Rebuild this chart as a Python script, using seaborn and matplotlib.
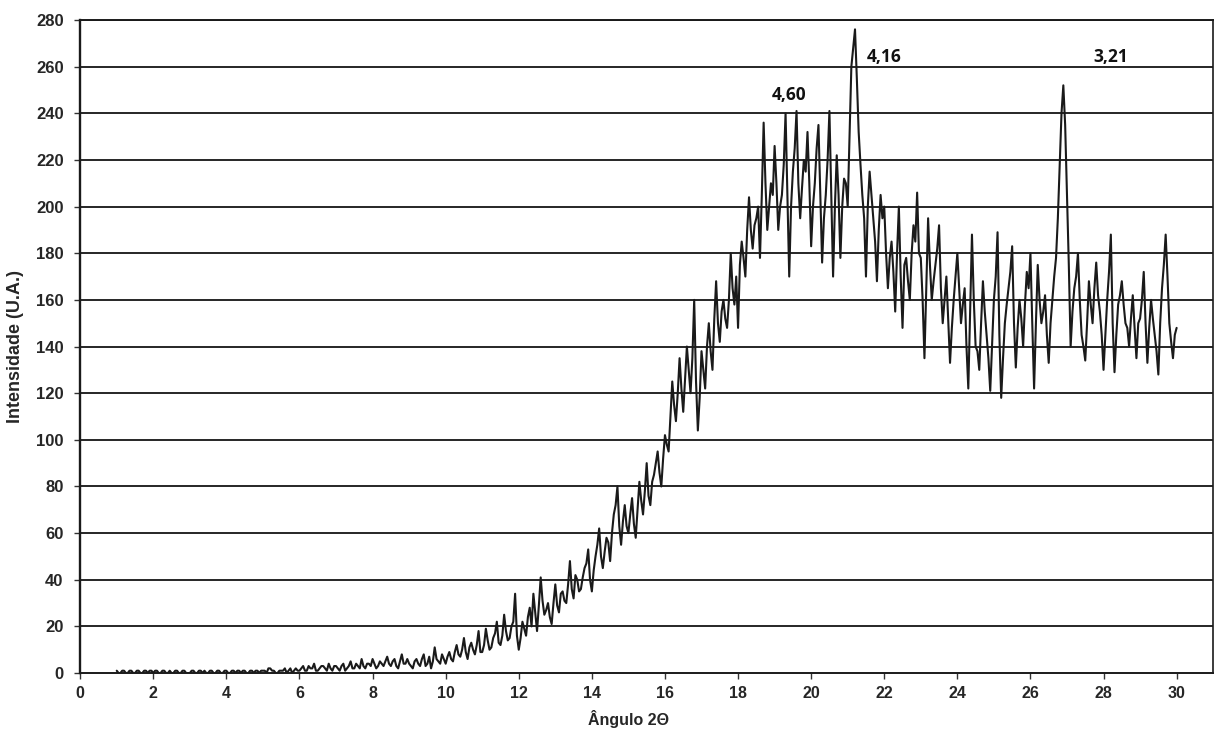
import numpy as np
import pandas as pd
import matplotlib
matplotlib.use("Agg")
import matplotlib.pyplot as plt
import seaborn as sns

# ---------------- data ----------------
# readings at x = 1.0, 1.1, ..., 30.0
x_start = 1.0
x_step = 0.1
intensity_1_8 = [
    1, 0, 1, 0, 1, 0, 1, 0, 1, 1,      # 1.0 - 1.9
    0, 1, 0, 1, 0, 0, 1, 0, 1, 0,      # 2
    0, 1, 0, 1, 1, 0, 1, 0, 1, 0,      # 3
    1, 0, 1, 1, 0, 1, 0, 1, 1, 0,      # 4
    1, 0, 2, 1, 0, 1, 2, 1, 0, 2,      # 5
    1, 3, 1, 2, 4, 1, 3, 2, 4, 1,      # 6
    3, 1, 4, 2, 5, 2, 3, 6, 2, 4,      # 7
    6, 2, 5, 3, 7, 3, 6, 2, 8, 4,      # 8
]
intensity_9_16 = [
    4, 2, 6, 3, 8, 4, 2, 11, 5, 8,               # 9
    4, 9, 5, 12, 7, 15, 6, 13, 8, 18,            # 10
    9, 19, 10, 15, 22, 12, 25, 14, 20, 34,       # 11
    10, 22, 16, 28, 34, 18, 41, 25, 30, 21,      # 12
    38, 26, 35, 30, 48, 32, 40, 36, 45, 53,      # 13
    35, 50, 62, 45, 58, 48, 68, 80, 55, 72,      # 14
    60, 75, 58, 82, 68, 90, 72, 85, 95, 80,      # 15
    102, 95, 125, 108, 135, 112, 140, 120, 160, 104,  # 16
]
intensity_17_22 = [
    138, 122, 150, 130, 168, 142, 160, 148, 180, 158,  # 17
    148, 185, 170, 204, 182, 195, 178, 236, 190, 210,  # 18
    226, 190, 205, 240, 170, 215, 241, 195, 220, 232,  # 19
    183, 210, 235, 176, 205, 241, 170, 222, 178, 212,  # 20
    200, 260, 276, 232, 205, 170, 215, 195, 168, 205,  # 21
    200, 165, 185, 155, 200, 148, 178, 160, 192, 206,  # 22
]
intensity_23_30 = [
    178, 135, 195, 160, 175, 192, 150, 170, 133, 160,  # 23
    180, 150, 165, 122, 188, 140, 130, 168, 145, 121,  # 24
    160, 189, 118, 150, 165, 183, 131, 160, 140, 172,  # 25
    180, 122, 175, 150, 162, 133, 160, 178, 218, 252,  # 26
    205, 140, 165, 180, 145, 134, 168, 150, 176, 155,  # 27
    130, 160, 188, 129, 158, 168, 150, 140, 162, 135,  # 28
    152, 172, 133, 160, 145, 128, 165, 188, 150, 135,  # 29
    148,                                               # 30.0
]
# readings at the in-between positions x = 1.05, 1.15, ..., 29.95
x_mid_start = 1.05
intensity_mid_1_10 = [
    0, 1, 0, 1, 0, 1, 0, 1, 0, 1,      # 1
    1, 0, 1, 0, 1, 0, 1, 0, 1, 0,      # 2
    1, 0, 1, 0, 0, 1, 0, 1, 0, 1,      # 3
    0, 1, 0, 1, 1, 0, 1, 0, 1, 1,      # 4
    1, 2, 1, 0, 1, 1, 0, 2, 1, 1,      # 5
    2, 1, 3, 2, 1, 2, 3, 1, 2, 3,      # 6
    2, 3, 1, 3, 2, 4, 2, 3, 4, 3,      # 7
    4, 3, 4, 5, 4, 5, 3, 5, 4, 6,      # 8
    3, 5, 4, 6, 3, 7, 5, 6, 4, 6,      # 9
    7, 6, 9, 8, 10, 9, 11, 10, 12, 9,  # 10
]
intensity_mid_11_20 = [
    12, 14, 11, 17, 13, 16, 18, 15, 22, 16,            # 11
    15, 19, 24, 20, 26, 29, 31, 27, 24, 30,            # 12
    29, 34, 31, 38, 36, 42, 35, 41, 47, 40,            # 13
    44, 55, 50, 52, 56, 60, 72, 63, 65, 63,            # 14
    68, 64, 70, 74, 78, 76, 82, 90, 86, 92,            # 15
    98, 110, 115, 120, 122, 126, 130, 135, 125, 118,   # 16
    130, 140, 138, 152, 150, 155, 152, 160, 165, 170,  # 17
    175, 178, 190, 190, 192, 200, 205, 210, 200, 205,  # 18
    210, 200, 218, 205, 200, 225, 210, 208, 215, 210,  # 19
    200, 225, 205, 195, 220, 205, 200, 205, 200, 210,  # 20
]
intensity_mid_21_29 = [
    230, 268, 255, 218, 195, 200, 205, 185, 190, 195,  # 21
    180, 178, 172, 180, 170, 175, 168, 180, 185, 180,  # 22
    160, 165, 175, 168, 182, 165, 160, 152, 148, 170,  # 23
    165, 158, 140, 155, 160, 138, 150, 155, 135, 140,  # 24
    170, 145, 135, 158, 172, 150, 148, 152, 158, 165,  # 25
    150, 150, 160, 155, 145, 150, 170, 195, 240, 235,  # 26
    175, 155, 170, 160, 140, 150, 158, 165, 162, 145,  # 27
    145, 172, 150, 145, 162, 158, 148, 152, 148, 150,  # 28
    160, 150, 148, 152, 138, 150, 175, 170, 142, 145,  # 29
]
peak_labels = ["4,60", "4,16", "3,21"]
peak_label_x = [19.4, 22.0, 28.2]
peak_label_y = [248, 264, 264]
x_ticks = list(range(0, 31, 2))
y_ticks = list(range(0, 281, 20))

main_vals = intensity_1_8 + intensity_9_16 + intensity_17_22 + intensity_23_30
mid_vals = intensity_mid_1_10 + intensity_mid_11_20 + intensity_mid_21_29
main_x = np.round(x_start + x_step * np.arange(len(main_vals)), 2)
mid_x = np.round(x_mid_start + x_step * np.arange(len(mid_vals)), 2)
df = pd.DataFrame({"angle": np.concatenate([main_x, mid_x]),
                   "intensity": main_vals + mid_vals}).sort_values("angle")

# ---------------- figure ----------------
sns.set_theme(style="white")
plt.rcParams["font.family"] = ["Liberation Sans", "DejaVu Sans"]

fig = plt.figure(figsize=(12.15, 7.31), dpi=100)
ax = fig.add_axes([0.066, 0.0793, 0.9325, 0.8933])

sns.lineplot(data=df, x="angle", y="intensity", ax=ax, color="#1a1a1a",
             linewidth=1.5, estimator=None, sort=True)

ax.set_xlim(0, 31)
ax.set_ylim(0, 280)
ax.set_xticks(x_ticks)
ax.set_yticks(y_ticks)

for yv in y_ticks[1:]:
    ax.axhline(yv, color="#262626", linewidth=1.4, zorder=0)

for side in ["left", "bottom", "right", "top"]:
    ax.spines[side].set_visible(True)
    ax.spines[side].set_color("#1a1a1a")
ax.spines["left"].set_linewidth(1.7)
ax.spines["bottom"].set_linewidth(1.4)
ax.spines["right"].set_linewidth(1.2)
ax.spines["top"].set_linewidth(1.4)

ax.tick_params(axis="both", which="major", direction="out", length=4,
               width=1.0, color="#333333", left=True, bottom=True)
ax.tick_params(axis="y", pad=8)
ax.tick_params(axis="x", pad=5)

for lbl in ax.get_yticklabels():
    lbl.set_fontweight("bold")
    lbl.set_fontsize(12)
    lbl.set_family(["Liberation Sans", "DejaVu Sans"])
for lbl in ax.get_xticklabels():
    lbl.set_fontweight("bold")
    lbl.set_fontsize(11.5)
    lbl.set_family(["Liberation Sans Narrow", "Liberation Sans", "DejaVu Sans"])

ax.set_ylabel("Intensidade (U.A.)", fontsize=13, fontweight="bold",
              family=["Liberation Sans Narrow", "Liberation Sans", "DejaVu Sans"])
ax.set_xlabel("Ângulo 2Θ", fontsize=11.5, fontweight="bold",
              family=["Liberation Sans Narrow", "Liberation Sans", "DejaVu Sans"])
ax.yaxis.set_label_coords(-0.0495, 0.5)
ax.xaxis.set_label_coords(15 / 31, -0.057)

for txt, tx, ty in zip(peak_labels, peak_label_x, peak_label_y):
    ax.text(tx, ty, txt, fontsize=12.5, fontweight="bold", color="#111111",
            family=["Open Sans", "DejaVu Sans"], ha="center", va="center")

fig.savefig("out.png", dpi=100, facecolor="white")
